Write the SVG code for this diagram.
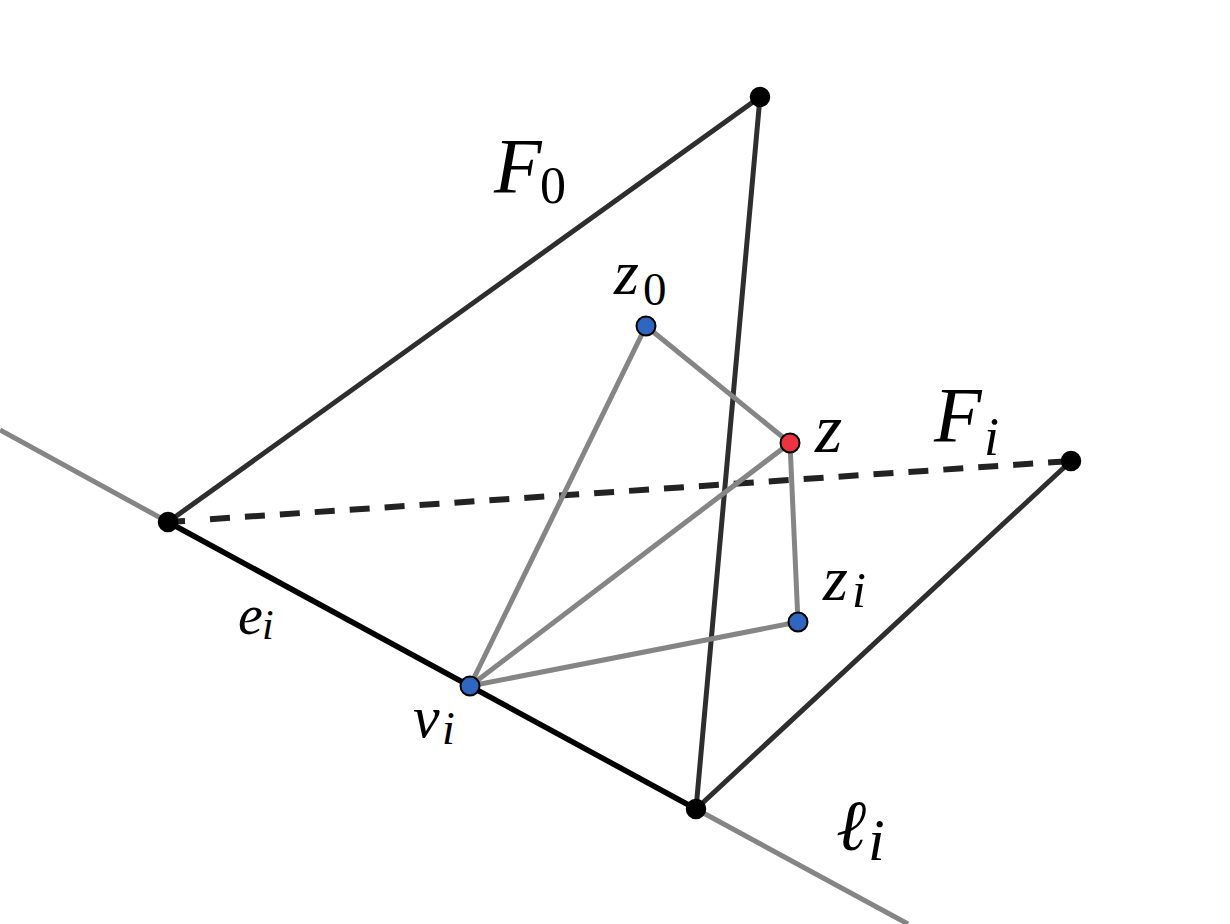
<svg xmlns="http://www.w3.org/2000/svg" width="1230" height="924" viewBox="0 0 1230 924">
<style>
.k{stroke:#2e2e2e;stroke-width:5;fill:none}
.d{stroke:#222;stroke-width:6;fill:none}
.g{stroke:#858585;stroke-width:5;fill:none}
.b{stroke:#000;stroke-width:5.5;fill:none}
.pk{fill:#000;stroke:#000;stroke-width:1.5}
.pb{fill:#2f66bf;stroke:#000;stroke-width:2}
.pr{fill:#ee3340;stroke:#000;stroke-width:2}
text{font-family:"Liberation Serif",serif;font-style:italic;fill:#000}
.s{font-style:normal}
</style>
<rect width="1230" height="924" fill="#fff"/>
<g id="connectors">
<path class="g" d="M0 430L168 522M696 809L908 924"/>
<path class="b" d="M168 522L696 809"/>
<path class="k" d="M168 522L760 97L696 809L1071 461"/>
<path class="d" stroke-dasharray="20 15" d="M175 521.5L185 520.9M210 519.2L1071 461"/>
<path class="g" d="M470 686L646 326L790 443L798 622L470 686L790 443"/>
</g>
<g id="n1"><circle class="pk" cx="760" cy="97" r="9.5"/></g>
<g id="n2"><circle class="pk" cx="168" cy="522" r="9.5"/></g>
<g id="n3"><circle class="pk" cx="696" cy="809" r="9.5"/></g>
<g id="n4"><circle class="pk" cx="1071" cy="461" r="9.5"/></g>
<g id="n5"><circle class="pb" cx="646" cy="326" r="9.5"/></g>
<g id="n6"><circle class="pr" cx="790" cy="443" r="9.5"/></g>
<g id="n7"><circle class="pb" cx="798" cy="622" r="9.5"/></g>
<g id="n8"><circle class="pb" cx="470" cy="686" r="9.5"/></g>
<g id="labels">
<text x="494" y="192" font-size="78">F<tspan class="s" x="540" y="203" font-size="52">0</tspan></text>
<text x="614" y="294" font-size="64">z<tspan class="s" x="643" y="305" font-size="47">0</tspan></text>
<text x="815" y="452" font-size="70">z</text>
<text x="934" y="441" font-size="78">F<tspan x="984" y="455" font-size="54">i</tspan></text>
<text x="823" y="600" font-size="64">z<tspan x="852" y="607" font-size="50">i</tspan></text>
<text x="238" y="634" font-size="56">e<tspan x="262" y="639" font-size="42">i</tspan></text>
<text x="413" y="737" font-size="60">v<tspan x="442" y="744" font-size="46">i</tspan></text>
<text x="836" y="850" font-size="72">ℓ<tspan x="868" y="860" font-size="60">i</tspan></text>
</g>
</svg>
